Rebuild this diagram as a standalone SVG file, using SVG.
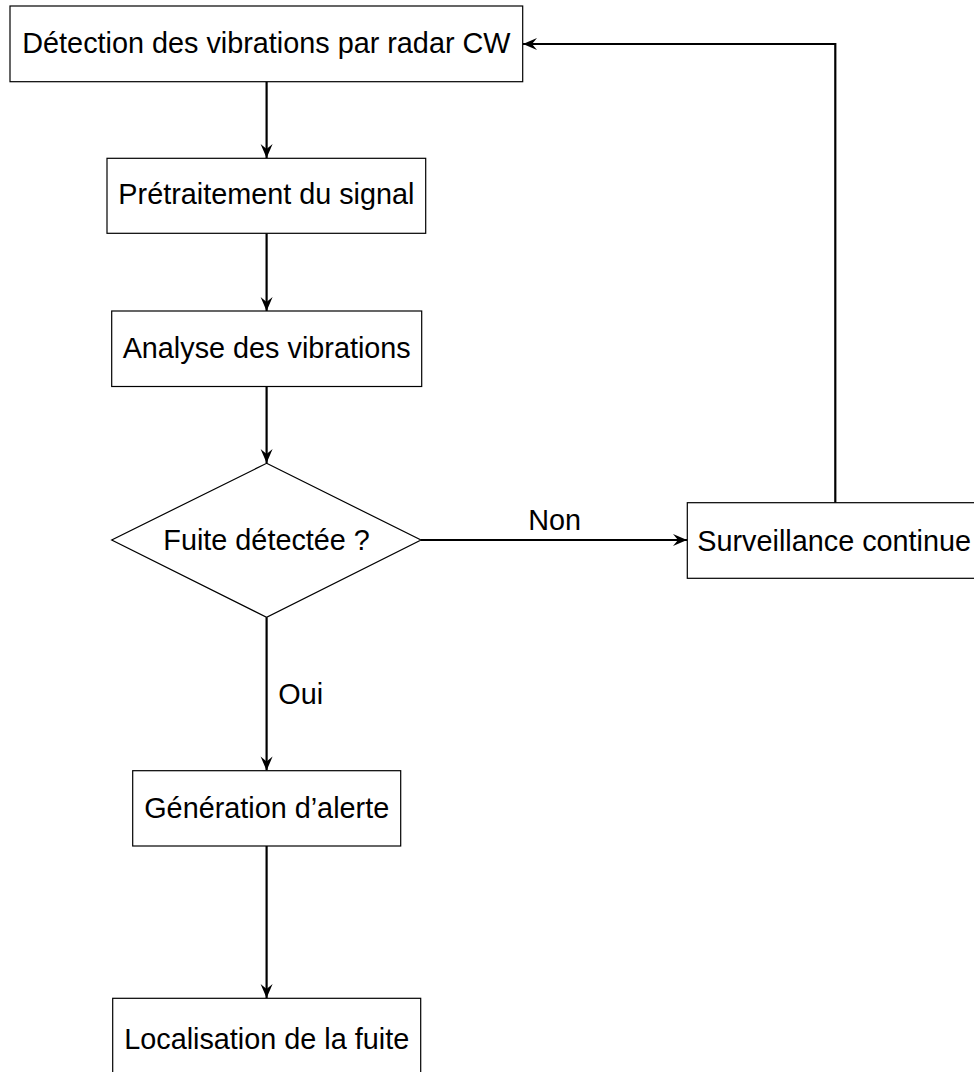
<svg xmlns="http://www.w3.org/2000/svg" width="974" height="1072" viewBox="0 0 974 1072">
  <defs>
    <marker id="arr" viewBox="-15 -7 16 14" refX="0" refY="0" markerWidth="16" markerHeight="14" markerUnits="userSpaceOnUse" orient="auto">
      <path d="M0,0 L-14,-6 L-9,0 L-14,6 Z" fill="#000"/>
    </marker>
  </defs>
  <style>
    .box { fill: #fff; stroke: #000; stroke-width: 1.2; }
    .lbl { font-family: "Liberation Sans", Arial, sans-serif; font-size: 28.8px; fill: #000; text-anchor: middle; }
    .edge { fill: none; stroke: #000; stroke-width: 2.2; marker-end: url(#arr); }
  </style>
  <rect width="974" height="1072" fill="#fff"/>
  <g id="connectors">
    <path class="edge" d="M266.6,82 V158"/>
    <path class="edge" d="M266.6,233.3 V311"/>
    <path class="edge" d="M266.6,386.5 V463"/>
    <path class="edge" d="M421,540 H687"/>
    <path class="edge" d="M266.6,617.3 V770.5"/>
    <path class="edge" d="M266.6,846 V998"/>
    <path class="edge" d="M835.3,502.7 V44 H523"/>
    <text class="lbl" x="554.7" y="530">Non</text>
    <text class="lbl" x="278.3" y="704.3" style="text-anchor:start">Oui</text>
  </g>
  <g id="n1">
    <rect class="box" x="10" y="6" width="512.7" height="75.7"/>
    <text class="lbl" x="266.4" y="53.4">Détection des vibrations par radar CW</text>
  </g>
  <g id="n2">
    <rect class="box" x="107" y="158.3" width="318.7" height="75"/>
    <text class="lbl" x="266.4" y="203.5">Prétraitement du signal</text>
  </g>
  <g id="n3">
    <rect class="box" x="111.7" y="311" width="310" height="75.5"/>
    <text class="lbl" x="266.7" y="357.5">Analyse des vibrations</text>
  </g>
  <g id="n4">
    <polygon class="box" points="266.6,463.3 421,540 266.6,617.3 111.7,540"/>
    <text class="lbl" x="266.6" y="550">Fuite détectée ?</text>
  </g>
  <g id="n5">
    <rect class="box" x="687.3" y="502.7" width="296" height="75.6"/>
    <text class="lbl" x="697.3" y="550.7" style="text-anchor:start">Surveillance continue</text>
  </g>
  <g id="n6">
    <rect class="box" x="132.7" y="770.7" width="268" height="75.3"/>
    <text class="lbl" x="266.7" y="818.3">Génération d’alerte</text>
  </g>
  <g id="n7">
    <rect class="box" x="112.7" y="998.3" width="308" height="75.5"/>
    <text class="lbl" x="266.7" y="1049">Localisation de la fuite</text>
  </g>
</svg>
